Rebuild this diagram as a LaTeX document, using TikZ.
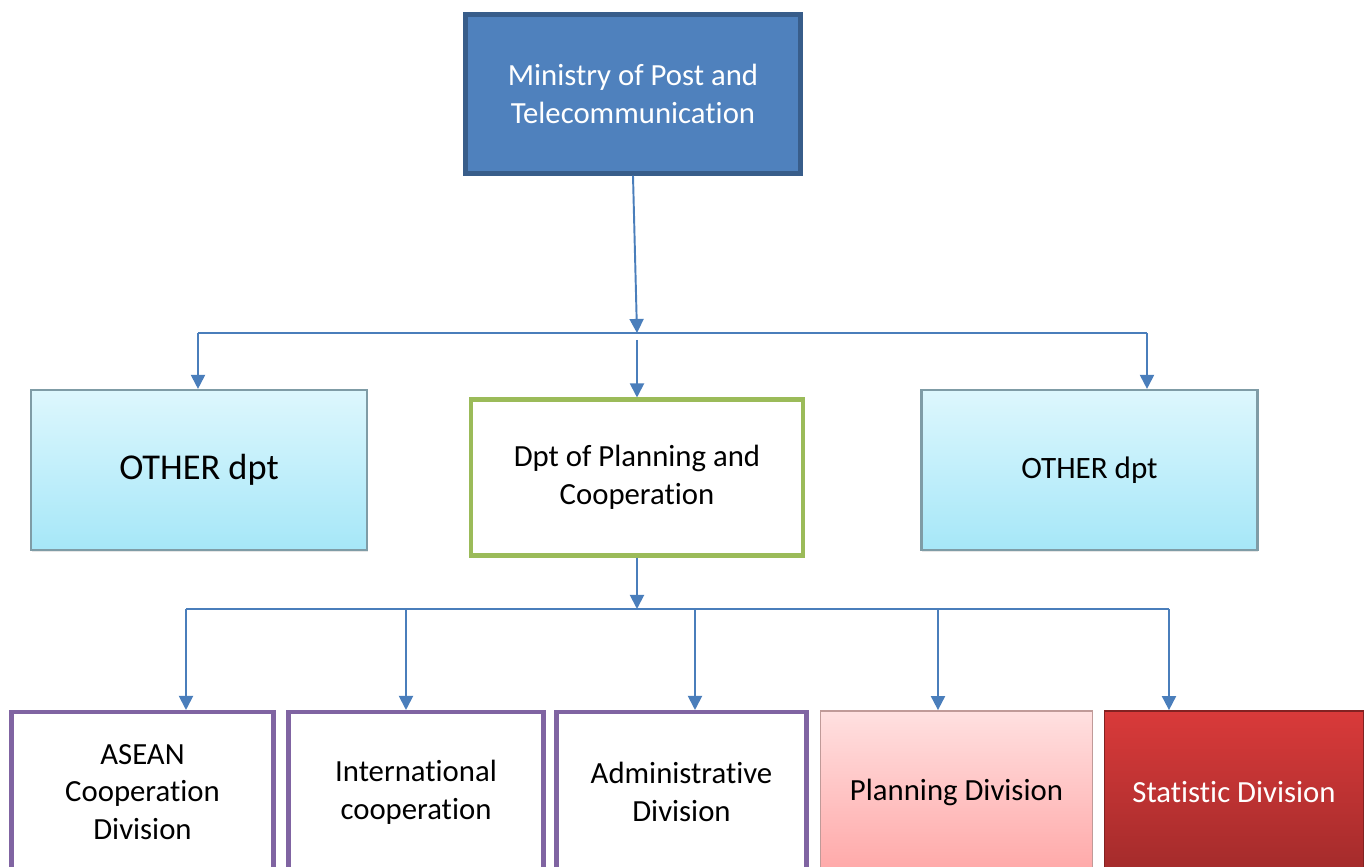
\documentclass[tikz,border=0pt]{standalone}
\usepackage{fontspec}
\setmainfont{Carlito}[Ligatures=NoCommon]
\usetikzlibrary{arrows.meta}
\usetikzlibrary{shadows}
\definecolor{ministryblue}{HTML}{4F81BD}
\definecolor{ministryedge}{HTML}{385D8A}
\definecolor{othertop}{HTML}{DDF7FD}
\definecolor{otherbottom}{HTML}{A6E7F8}
\definecolor{otheredge}{HTML}{7F9CA6}
\definecolor{dptedge}{HTML}{9BBB59}
\definecolor{divedge}{HTML}{8064A2}
\definecolor{plantop}{HTML}{FFE0E0}
\definecolor{planbottom}{HTML}{FFA8A8}
\definecolor{planedge}{HTML}{C09A98}
\definecolor{stattop}{HTML}{D93A3A}
\definecolor{statbottom}{HTML}{A32B2B}
\definecolor{arrowblue}{HTML}{4A7EBB}
\tikzset{
	ministrystyle/.style={rectangle,draw=ministryedge,line width=2.5pt,fill=ministryblue,text=white,minimum width=6.7cm,minimum height=3.18cm,align=center,font=\fontsize{17.5}{21.5}\selectfont},
	otherstyle/.style={rectangle,draw=otheredge,line width=1.2pt,top color=othertop,bottom color=otherbottom,minimum width=6.72cm,minimum height=3.2cm,align=center,drop shadow={opacity=0.2,shadow xshift=0.5pt,shadow yshift=-1pt}},
	dptstyle/.style={rectangle,draw=dptedge,line width=2.3pt,fill=white,minimum width=6.64cm,minimum height=3.12cm,align=center,font=\fontsize{17.5}{21.5}\selectfont},
	divstyle/.style={rectangle,draw=divedge,line width=2.3pt,fill=white,minimum height=3.2cm,align=center,font=\fontsize{17.5}{21.5}\selectfont},
	planstyle/.style={rectangle,draw=planedge,line width=1pt,top color=plantop,bottom color=planbottom,minimum height=3.24cm,align=center,font=\fontsize{17.5}{21.5}\selectfont},
	statstyle/.style={rectangle,draw=statbottom!80!black,line width=1pt,top color=stattop,bottom color=statbottom,text=white,minimum height=3.24cm,align=center,font=\fontsize{17.5}{21.5}\selectfont},
	arrowstyle/.style={draw=arrowblue,line width=1.1pt,-{Triangle[width=8pt,length=8pt]}},
	busstyle/.style={draw=arrowblue,line width=1.1pt}
}
\begin{document}
\begin{tikzpicture}
	\useasboundingbox (0,0) rectangle (27.38,17.34);
	\node[ministrystyle] (ministry) at (12.66,15.46) {Ministry of Post and\\Telecommunication};
	\node[otherstyle,font=\fontsize{20.7}{25}\selectfont] (otherl) at (3.98,7.94) {OTHER dpt};
	\node[dptstyle] (dpt) at (12.74,7.79) {Dpt of Planning and\\Cooperation};
	\node[otherstyle,font=\fontsize{17.7}{21.5}\selectfont] (otherr) at (21.79,7.94) {OTHER dpt};
	\node[divstyle,minimum width=5.24cm] (asean) at (2.85,1.5) {ASEAN\\Cooperation\\Division};
	\node[divstyle,minimum width=5.1cm] (intl) at (8.32,1.5) {International\\cooperation};
	\node[divstyle,minimum width=5cm] (admin) at (13.63,1.5) {Administrative\\Division};
	\node[planstyle,minimum width=5.44cm] (plandiv) at (19.13,1.5) {Planning Division};
	\node[statstyle,minimum width=5.18cm] (statdiv) at (24.68,1.5) {Statistic Division};
	\coordinate (bustop) at (12.74,10.68);
	\coordinate (bustopl) at (3.96,10.68);
	\coordinate (bustopr) at (22.94,10.68);
	\coordinate (dptin) at (12.74,10.54);
	\coordinate (busb1) at (3.72,5.16);
	\coordinate (busb2) at (8.12,5.16);
	\coordinate (busb3) at (13.9,5.16);
	\coordinate (busb4) at (18.76,5.16);
	\coordinate (busb5) at (23.38,5.16);
	\draw[arrowstyle] (ministry.south)--(bustop);
	\draw[busstyle] (bustopl)--(bustopr);
	\draw[arrowstyle] (bustopl)--(bustopl |- otherl.north);
	\draw[arrowstyle] (dptin)--(dptin |- dpt.north);
	\draw[arrowstyle] (bustopr)--(bustopr |- otherr.north);
	\draw[arrowstyle] (dpt.south)--(dpt.south |- busb1);
	\draw[busstyle] (busb1)--(busb5);
	\draw[arrowstyle] (busb1)--(busb1 |- asean.north);
	\draw[arrowstyle] (busb2)--(busb2 |- intl.north);
	\draw[arrowstyle] (busb3)--(busb3 |- admin.north);
	\draw[arrowstyle] (busb4)--(busb4 |- plandiv.north);
	\draw[arrowstyle] (busb5)--(busb5 |- statdiv.north);
\end{tikzpicture}
\end{document}
